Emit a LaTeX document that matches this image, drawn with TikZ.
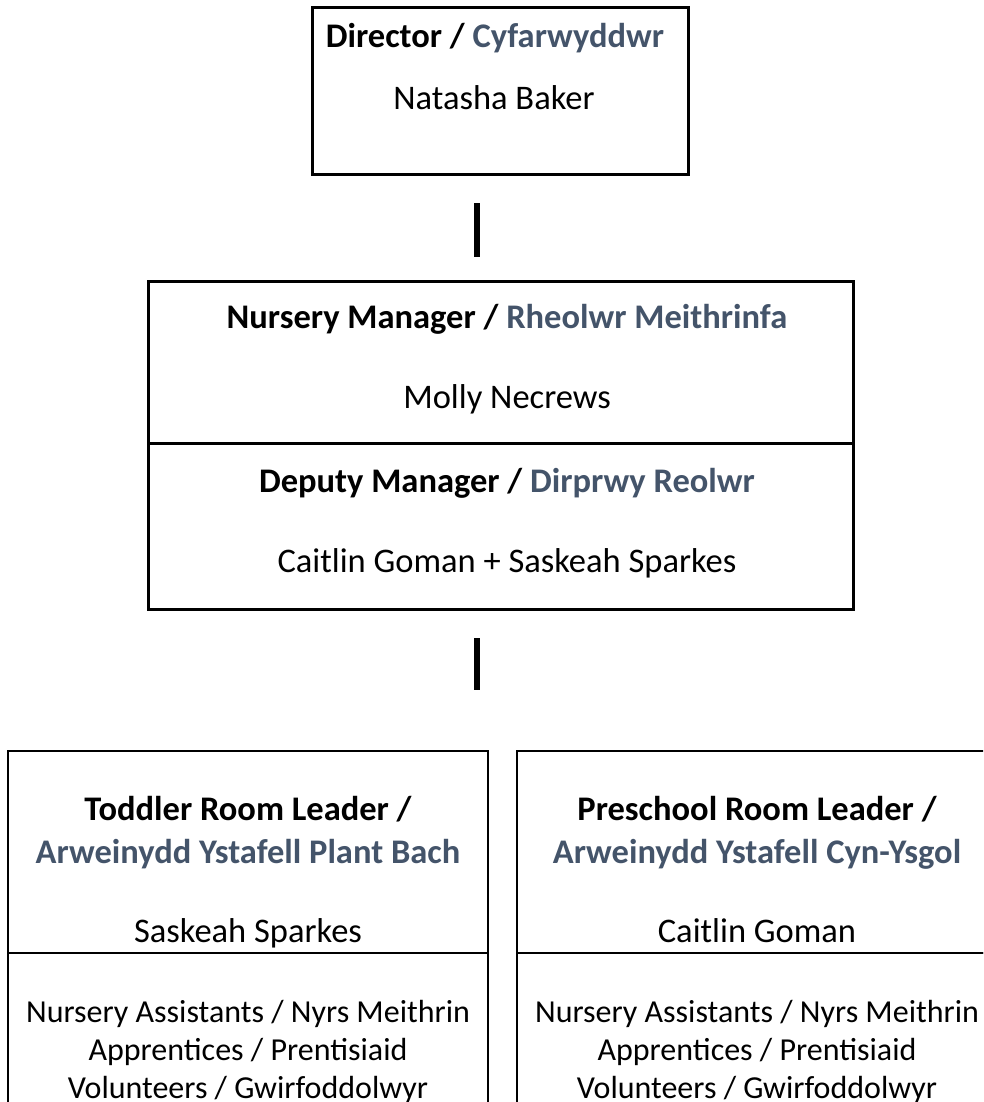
\documentclass[tikz,border=0pt]{standalone}
\usepackage{fontspec}
\setmainfont{Carlito}
\definecolor{welsh}{HTML}{44546A}
\begin{document}
\begin{tikzpicture}[x=1pt,y=-1pt,
  box/.style={draw,line width=3pt,inner sep=0pt,outer sep=0pt,anchor=north west},
  room/.style={box,line width=2pt,minimum width=480pt},
  txt/.style={anchor=base,inner sep=0pt,font=\fontsize{34.5}{40}\selectfont},
  role/.style={txt,font=\fontsize{34.5}{40}\selectfont\bfseries},
  staff/.style={txt,font=\fontsize{32}{38}\selectfont},
  bar/.style={line width=6pt}]
\useasboundingbox (0,0) rectangle (983,1102);
\clip (0,0) rectangle (983,1102);
% director
\node[box,minimum width=376pt,minimum height=167pt] (dir) at (312,8) {};
\node[role] (dirrole) at (495,48) {Director / {\color{welsh}Cyfarwyddwr}};
\node[txt] (dirname) at (494,110) {Natasha Baker};
% managers
\node[box,minimum width=705pt,minimum height=162pt] (mgr) at (148,281) {};
\node[box,minimum width=705pt,minimum height=166pt] (dep) at (148,443) {};
\node[role] (mgrrole) at (507,328) {Nursery Manager / {\color{welsh}Rheolwr Meithrinfa}};
\node[txt] (mgrname) at (507,408) {Molly Necrews};
\node[role] (deprole) at (507,492) {Deputy Manager / {\color{welsh}Dirprwy Reolwr}};
\node[txt] (depname) at (507,572) {Caitlin Goman + Saskeah Sparkes};
% rooms
\foreach \r/\bx/\x/\en/\cy/\who in {tod/8/248/Toddler/Plant Bach/Saskeah Sparkes,
                                    pre/517/757/Preschool/Cyn-Ysgol/Caitlin Goman} {
  \node[room,minimum height=202pt] (\r-head) at (\bx,751) {};
  \node[room,minimum height=200pt] (\r-staff) at (\bx,953) {};
  \node[role] (\r-role) at (\x,820) {\en\ Room Leader /};
  \node[role,text=welsh] (\r-cy) at (\x,863) {Arweinydd Ystafell \cy};
  \node[txt] (\r-name) at (\x,942) {\who};
  \node[staff] (\r-nurs) at (\x,1022) {Nursery Assistants / Nyrs Meithrin};
  \node[staff] (\r-appr) at (\x,1060) {Apprentices / Prentisiaid};
  \node[staff] (\r-vol) at (\x,1098) {Volunteers / Gwirfoddolwyr};
}
% bars
\coordinate (barx) at (477,0);
\draw[bar] ([yshift=-28pt]dir.south -| barx) -- ([yshift=24pt]mgr.north -| barx);
\draw[bar] ([yshift=-29pt]dep.south -| barx) -- ([yshift=61pt]tod-head.north -| barx);
\end{tikzpicture}
\end{document}
